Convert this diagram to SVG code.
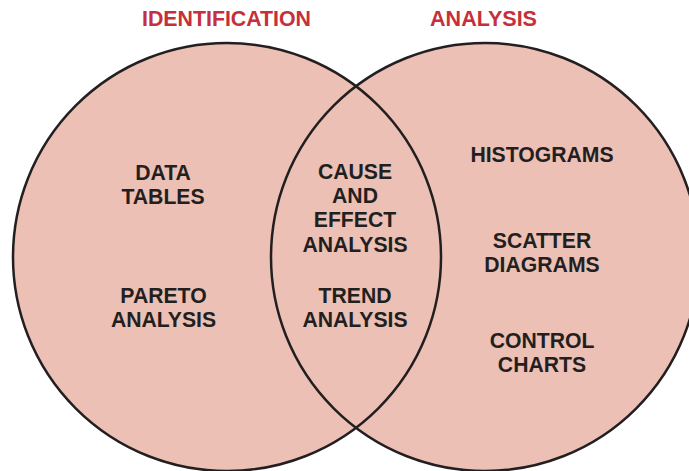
<svg xmlns="http://www.w3.org/2000/svg" width="689" height="471" viewBox="0 0 689 471">
<style>
.fill{fill:#ecc0b5;stroke:none}
.ring{fill:none;stroke:#231f20;stroke-width:2.5}
.title{font-family:"Liberation Sans",Arial,sans-serif;font-weight:bold;font-size:22px;fill:#c5303a;text-anchor:middle}
.lbl{font-family:"Liberation Sans",Arial,sans-serif;font-weight:bold;font-size:21.2px;fill:#231f20;text-anchor:middle}
</style>
<rect width="689" height="471" fill="#ffffff"/>
<g id="sets-fill">
<circle class="fill" cx="227" cy="257" r="214"/>
<circle class="fill" cx="485" cy="257" r="214"/>
</g>
<g id="set-identification">
<circle class="ring" cx="227" cy="257" r="214"/>
<text class="title" x="226.5" y="26" textLength="169" lengthAdjust="spacingAndGlyphs">IDENTIFICATION</text>
</g>
<g id="set-analysis">
<circle class="ring" cx="485" cy="257" r="214"/>
<text class="title" x="483.5" y="26" textLength="107" lengthAdjust="spacingAndGlyphs">ANALYSIS</text>
</g>
<g id="data-tables"><text class="lbl" x="163" y="180">DATA</text><text class="lbl" x="163" y="203.5">TABLES</text></g>
<g id="pareto-analysis"><text class="lbl" x="163.5" y="303">PARETO</text><text class="lbl" x="163.5" y="327">ANALYSIS</text></g>
<g id="cause-effect"><text class="lbl" x="355" y="179">CAUSE</text><text class="lbl" x="355" y="203">AND</text><text class="lbl" x="355" y="227">EFFECT</text><text class="lbl" x="355" y="251.5">ANALYSIS</text></g>
<g id="trend-analysis"><text class="lbl" x="355" y="303">TREND</text><text class="lbl" x="355" y="327">ANALYSIS</text></g>
<g id="histograms"><text class="lbl" x="542" y="162">HISTOGRAMS</text></g>
<g id="scatter-diagrams"><text class="lbl" x="542" y="248">SCATTER</text><text class="lbl" x="542" y="272">DIAGRAMS</text></g>
<g id="control-charts"><text class="lbl" x="542" y="348">CONTROL</text><text class="lbl" x="542" y="372">CHARTS</text></g>
<g id="connectors"></g>
</svg>
